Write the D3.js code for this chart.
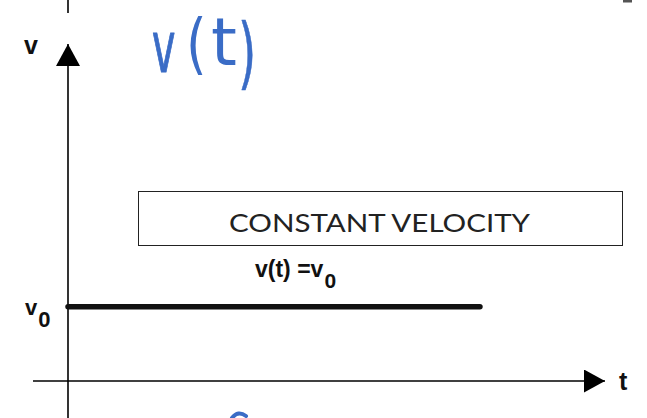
<!DOCTYPE html>
<html>
<head>
<meta charset="utf-8">
<script src="https://cdn.jsdelivr.net/npm/d3@7"></script>
<style>
  html, body { margin: 0; padding: 0; background: #fff; }
  svg { display: block; }
</style>
</head>
<body>
<svg id="chart" width="647" height="418"></svg>
<script>
// Velocity–time graph for motion at constant velocity
const timeDomain = [0, 10];          // t axis extent
const velocityDomain = [0, 10];      // v axis extent
const v0 = 2.2;                      // constant velocity
const segmentTimes = [0, 7.7];       // time span of the v(t) = v0 segment
const boxTitle = "CONSTANT VELOCITY";
const handLabel = ["v", "(", "t", ")"];

const svg = d3.select("#chart");
const W = 647, H = 418;

const x = d3.scaleLinear().domain(timeDomain).range([68, 603]);
const y = d3.scaleLinear().domain(velocityDomain).range([381, 44]);

const ink = "#000";

// arrowheads
const defs = svg.append("defs");
defs.append("marker").attr("id", "arrowUp")
  .attr("viewBox", "0 0 24 22").attr("refX", 12).attr("refY", 0)
  .attr("markerUnits", "userSpaceOnUse")
  .attr("markerWidth", 24).attr("markerHeight", 22)
  .attr("orient", "0")
  .append("path").attr("d", "M0,22 L12,0 L24,22 Z").attr("fill", ink);
defs.append("marker").attr("id", "arrowRight")
  .attr("viewBox", "0 0 21 23").attr("refX", 21).attr("refY", 11.5)
  .attr("markerUnits", "userSpaceOnUse")
  .attr("markerWidth", 21).attr("markerHeight", 23)
  .attr("orient", "0")
  .append("path").attr("d", "M0,0 L21,11.5 L0,23 Z").attr("fill", ink);

const x0 = x(0), yBase = y(0);

// vertical (v) axis: runs below the t axis and up to the arrow
svg.append("line")
  .attr("x1", x0).attr("x2", x0)
  .attr("y1", H).attr("y2", y(velocityDomain[1]))
  .attr("stroke", ink).attr("stroke-width", 1.6)
  .attr("marker-end", "url(#arrowUp)");
// short stub at the top edge
svg.append("line")
  .attr("x1", x0).attr("x2", x0).attr("y1", 0).attr("y2", 13)
  .attr("stroke", ink).attr("stroke-width", 1.6);

// horizontal (t) axis
svg.append("line")
  .attr("x1", 33).attr("x2", x(timeDomain[1]) + 2)
  .attr("y1", yBase).attr("y2", yBase)
  .attr("stroke", ink).attr("stroke-width", 1.6)
  .attr("marker-end", "url(#arrowRight)");

// v(t) = v0 line
const line = d3.line().x(d => x(d)).y(() => y(v0));
svg.append("path")
  .datum(segmentTimes)
  .attr("d", line)
  .attr("fill", "none")
  .attr("stroke", "#111")
  .attr("stroke-width", 5.5)
  .attr("stroke-linecap", "round");

// axis labels
const lab = svg.append("g")
  .attr("font-family", "'Liberation Sans', Arial, sans-serif")
  .attr("font-weight", "bold").attr("fill", "#111");
lab.append("text").attr("x", 24).attr("y", 54).attr("font-size", 25).text("v");
lab.append("text").attr("x", 619).attr("y", 390).attr("font-size", 25).text("t");

const v0Label = lab.append("text").attr("x", 25).attr("y", y(v0) + 8).attr("font-size", 22);
v0Label.append("tspan").text("v");
v0Label.append("tspan").attr("dx", 1).attr("dy", 12).attr("font-size", 22).text("0");

const eq = lab.append("text").attr("x", 255).attr("y", 277).attr("font-size", 23);
eq.append("tspan").text("v(t) =v");
eq.append("tspan").attr("dx", 1).attr("dy", 11).attr("font-size", 21).text("0");

// title box
svg.append("rect")
  .attr("x", 138.5).attr("y", 191.5).attr("width", 484).attr("height", 54)
  .attr("fill", "#fff").attr("stroke", "#222").attr("stroke-width", 1);
svg.append("text")
  .attr("x", 229).attr("y", 232)
  .attr("font-family", "Lato, 'Open Sans', sans-serif")
  .attr("font-size", 25).attr("fill", "#222")
  .attr("textLength", 301).attr("lengthAdjust", "spacingAndGlyphs")
  .text(boxTitle);

// handwritten v(t) in blue
const blue = "#3a6cc6";
const hand = svg.append("g")
  .attr("font-family", "'DejaVu Sans', sans-serif")
  .attr("fill", blue)
  .attr("stroke", blue)
  .attr("stroke-linejoin", "round");
const glyphs = [
  { ch: handLabel[0], x: 152, y: 72, size: 72, sx: 0.55, sw: 0.6 },
  { ch: handLabel[1], x: 186, y: 66, size: 66, sx: 0.8, sw: 0 },
  { ch: handLabel[2], x: 211, y: 65, size: 66, sx: 1.0, sw: 0 },
  { ch: handLabel[3], x: 238, y: 80, size: 78, sx: 0.6, sw: 0.4 }
];
glyphs.forEach(g => {
  hand.append("text")
    .attr("transform", `translate(${g.x},${g.y}) scale(${g.sx},1)`)
    .attr("font-size", g.size)
    .attr("stroke-width", g.sw / g.sx)
    .text(g.ch);
});

// ink marks at the page edges
svg.append("path")
  .attr("d", "M232,418 Q238,410 246,416")
  .attr("fill", "none").attr("stroke", blue).attr("stroke-width", 4)
  .attr("stroke-linecap", "round");
svg.append("rect").attr("x", 623).attr("y", 0).attr("width", 9).attr("height", 2.5)
  .attr("fill", "#555");
</script>
</body>
</html>
